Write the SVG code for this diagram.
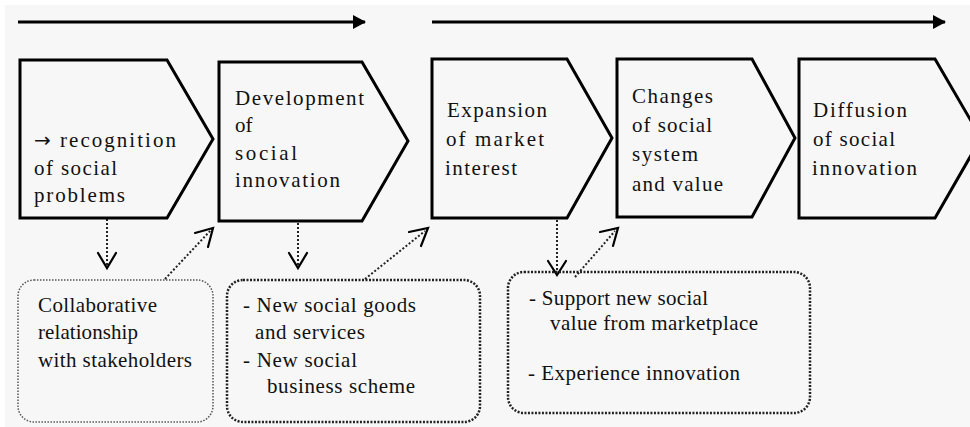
<svg xmlns="http://www.w3.org/2000/svg" width="970" height="427" viewBox="0 0 970 427">
<style>
.bg{fill:#f7f7f7}
.step{fill:#f7f7f7;stroke:#000;stroke-width:3;stroke-linejoin:miter}
text{font-family:"Liberation Serif","Times New Roman",serif;font-size:21px;fill:#111}
.flow{stroke:#000;stroke-width:3;fill:none}
.dot{stroke:#222;stroke-width:2;stroke-dasharray:2 2;fill:none}
.box1{fill:none;stroke:#555;stroke-width:1.5;stroke-dasharray:1.5 1.5}
.box2{fill:none;stroke:#222;stroke-width:2.5;stroke-dasharray:2 1.5}
.vee{stroke:#000;stroke-width:2.2;fill:none;stroke-linecap:round;stroke-linejoin:miter}
</style>
<defs>
<marker id="tri" markerWidth="14" markerHeight="14" refX="12" refY="7" orient="auto" markerUnits="userSpaceOnUse">
<path d="M0,0 L13,7 L0,14 Z" fill="#000"/>
</marker>
</defs>
<rect width="970" height="427" fill="#fff"/>
<rect class="bg" x="5" y="5" width="965" height="422"/>

<g id="connectors">
<line class="flow" x1="18" y1="22" x2="365" y2="22" marker-end="url(#tri)"/>
<line class="flow" x1="432" y1="22" x2="945" y2="22" marker-end="url(#tri)"/>
<line class="dot" x1="107" y1="219" x2="107" y2="266"/>
<polyline class="vee" points="98,253 107,268 116,253"/>
<line class="dot" x1="165" y1="279" x2="211" y2="230"/>
<polyline class="vee" points="195,233 213,228 208,247"/>
<line class="dot" x1="298" y1="223" x2="298" y2="266"/>
<polyline class="vee" points="289,253 298,268 307,253"/>
<line class="dot" x1="365" y1="279" x2="425" y2="231"/>
<polyline class="vee" points="409,232 428,228 421,246"/>
<line class="dot" x1="557" y1="220" x2="557" y2="272"/>
<polyline class="vee" points="548,261 557,275 566,261"/>
<line class="dot" x1="575" y1="277" x2="615" y2="231"/>
<polyline class="vee" points="600,232 618,228 613,246"/>
</g>

<g id="step1">
<polygon class="step" points="20,60 167,60 213,139 167,218 20,218"/>
<text x="34" y="147" textLength="142" lengthAdjust="spacing"><tspan style="font-family:'DejaVu Sans',sans-serif;font-size:20px">→</tspan> recognition</text>
<text x="34" y="175" textLength="83" lengthAdjust="spacing">of social</text>
<text x="34" y="202" textLength="91" lengthAdjust="spacing">problems</text>
</g>

<g id="step2">
<polygon class="step" points="219,62 362,62 408,141 362,221 219,221"/>
<text x="235" y="105" textLength="129" lengthAdjust="spacing">Development</text>
<text x="235" y="132">of</text>
<text x="235" y="160" textLength="62" lengthAdjust="spacing">social</text>
<text x="235" y="187" textLength="105" lengthAdjust="spacing">innovation</text>
</g>

<g id="step3">
<polygon class="step" points="432,59 567,59 612,138 567,218 432,218"/>
<text x="447" y="117" textLength="100" lengthAdjust="spacing">Expansion</text>
<text x="446" y="146" textLength="98" lengthAdjust="spacing">of  market</text>
<text x="445" y="175" textLength="72" lengthAdjust="spacing">interest</text>
</g>

<g id="step4">
<polygon class="step" points="617,59 752,59 795,138 752,217 617,217"/>
<text x="632" y="103" textLength="81" lengthAdjust="spacing">Changes</text>
<text x="632" y="132" textLength="80" lengthAdjust="spacing">of social</text>
<text x="632" y="161" textLength="66" lengthAdjust="spacing">system</text>
<text x="632" y="191" textLength="91" lengthAdjust="spacing">and value</text>
</g>

<g id="step5">
<polygon class="step" points="799,59 935,59 981,138 935,218 799,218"/>
<text x="813" y="117" textLength="94" lengthAdjust="spacing">Diffusion</text>
<text x="813" y="146" textLength="82" lengthAdjust="spacing">of social</text>
<text x="812" y="175" textLength="105" lengthAdjust="spacing">innovation</text>
</g>

<g id="outcome1">
<rect class="box1" x="18" y="280" width="195" height="142" rx="16" ry="16"/>
<text x="38" y="312" textLength="119" lengthAdjust="spacing">Collaborative</text>
<text x="38" y="339" textLength="100" lengthAdjust="spacing">relationship</text>
<text x="38" y="367" textLength="154" lengthAdjust="spacing">with stakeholders</text>
</g>

<g id="outcome2">
<rect class="box2" x="227" y="280" width="253" height="142" rx="16" ry="16"/>
<text x="243" y="312" textLength="173" lengthAdjust="spacing">- New social goods</text>
<text x="255" y="339" textLength="110" lengthAdjust="spacing">and services</text>
<text x="243" y="367" textLength="114" lengthAdjust="spacing">- New social</text>
<text x="267" y="393" textLength="148" lengthAdjust="spacing">business scheme</text>
</g>

<g id="outcome3">
<rect class="box2" x="508" y="272" width="302" height="141" rx="16" ry="16"/>
<text x="529" y="305" textLength="179" lengthAdjust="spacing">- Support new social</text>
<text x="550" y="330" textLength="208" lengthAdjust="spacing">value from marketplace</text>
<text x="528" y="380" textLength="212" lengthAdjust="spacing">- Experience innovation</text>
</g>
</svg>
